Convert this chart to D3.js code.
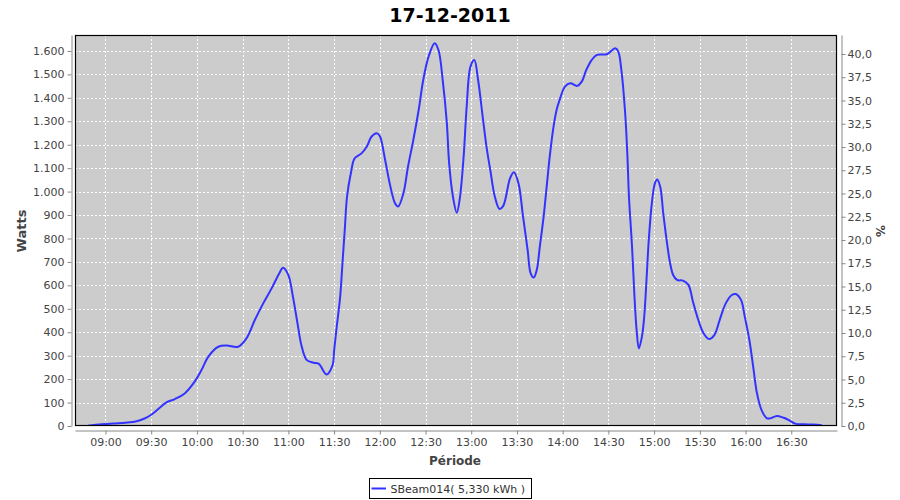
<!DOCTYPE html>
<html>
<head>
<meta charset="utf-8">
<script src="https://cdn.jsdelivr.net/npm/d3@7"></script>
<style>
  html, body { margin: 0; padding: 0; background: #ffffff; }
  svg { display: block; }
  text { font-family: "DejaVu Sans", sans-serif; }
</style>
</head>
<body>
<svg id="chart" width="900" height="500"></svg>
<script>
// ---------------- DATA ----------------
const chartTitle = "17-12-2011";
const seriesName = "SBeam014( 5,330 kWh )";
const leftAxisLabel = "Watts";
const rightAxisLabel = "%";
const xAxisLabel = "Période";

const times = [
  "08:48:30","08:57:30","09:05:00","09:13:00","09:20:30","09:26:00","09:30:30","09:36:00","09:40:00","09:45:30",
  "09:52:00","09:58:30","10:03:00","10:07:30","10:14:00","10:19:30","10:27:00","10:32:30","10:38:00","10:43:30",
  "10:49:00","10:54:00","10:56:30","11:00:00","11:03:00","11:06:00","11:08:30","11:12:00","11:16:30","11:20:00",
  "11:25:00","11:29:00","11:30:00","11:31:30","11:34:00","11:35:30","11:37:00","11:38:30","11:41:00","11:43:30",
  "11:48:00","11:51:30","11:54:30","11:58:00","12:00:00","12:03:30","12:06:30","12:10:00","12:12:00","12:15:30",
  "12:18:30","12:22:00","12:25:30","12:28:30","12:32:00","12:36:00","12:38:30","12:41:30","12:44:00","12:45:30",
  "12:48:00","12:50:30","12:52:30","12:55:00","12:57:00","12:59:30","13:02:00","13:04:30","13:07:30","13:10:00",
  "13:12:30","13:15:30","13:18:30","13:21:00","13:25:30","13:28:00","13:31:00","13:34:00","13:37:00","13:39:00",
  "13:41:00","13:43:00","13:45:00","13:47:30","13:49:30","13:51:30","13:54:00","13:56:00","13:58:00","14:01:30",
  "14:05:00","14:09:30","14:12:30","14:15:30","14:19:00","14:22:30","14:29:00","14:34:30","14:36:30","14:38:30",
  "14:41:00","14:42:30","14:43:30","14:45:30","14:47:00","14:48:30","14:50:00","14:52:00","14:53:30","14:55:00",
  "14:56:30","14:58:30","15:00:30","15:02:00","15:04:00","15:06:00","15:08:30","15:10:30","15:12:30","15:15:00",
  "15:19:00","15:22:30","15:25:30","15:29:00","15:32:30","15:36:00","15:39:30","15:43:00","15:47:00","15:51:00",
  "15:53:30","15:57:00","15:59:30","16:02:30","16:05:00","16:07:30","16:10:30","16:14:00","16:16:30","16:20:30",
  "16:25:00","16:29:00","16:32:30","16:38:00","16:44:30","16:50:00"
];
const watts = [
  1, 7, 11, 14, 20, 33, 50, 80, 101, 115,
  139, 189, 239, 296, 338, 343, 338, 374, 452, 523,
  587, 651, 675, 644, 552, 438, 346, 282, 270, 265,
  220, 260, 320, 410, 552, 694, 836, 978, 1078, 1142,
  1163, 1192, 1234, 1249, 1237, 1135, 1035, 950, 936, 993,
  1106, 1220, 1348, 1476, 1576, 1633, 1604, 1462, 1291, 1121,
  978, 910, 971, 1149, 1362, 1533, 1561, 1476, 1320, 1192,
  1092, 978, 926, 939, 1057, 1082, 1035, 893, 751, 651,
  633, 666, 765, 893, 1021, 1149, 1277, 1348, 1391, 1448,
  1462, 1451, 1469, 1519, 1561, 1583, 1586, 1611, 1597, 1519,
  1334, 1149, 978, 765, 566, 410, 331, 381, 466, 623,
  794, 950, 1035, 1052, 1021, 907, 779, 694, 644, 623,
  620, 602, 530, 452, 395, 371, 388, 452, 523, 559,
  563, 538, 466, 367, 253, 139, 68, 33, 33, 43,
  35, 23, 10, 7, 6, 3
];

const xDomainTimes = ["08:40:00", "17:00:00"];
const xTickTimes = ["09:00:00","09:30:00","10:00:00","10:30:00","11:00:00","11:30:00","12:00:00","12:30:00",
                    "13:00:00","13:30:00","14:00:00","14:30:00","15:00:00","15:30:00","16:00:00","16:30:00"];
const leftDomain = [0, 1668];
const leftTicks = [0,100,200,300,400,500,600,700,800,900,1000,1100,1200,1300,1400,1500,1600];
const rightDomain = [0, 42.04];
const rightTicks = [0,2.5,5,7.5,10,12.5,15,17.5,20,22.5,25,27.5,30,32.5,35,37.5,40];

// ---------------- LAYOUT ----------------
const plot = { left: 75, top: 35, right: 837, bottom: 426 };
const parse = d3.timeParse("%H:%M:%S");
const data = times.map((t, i) => ({ t: parse(t), v: watts[i] }));

const locale = d3.formatLocale({ decimal: ",", thousands: ".", grouping: [3], currency: ["", ""] });
const fmtLeft = locale.format(",d");
const fmtRight = locale.format(",.1f");

const x = d3.scaleTime().domain(xDomainTimes.map(parse)).range([plot.left, plot.right]);
const yL = d3.scaleLinear().domain(leftDomain).range([plot.bottom, plot.top]);
const yR = d3.scaleLinear().domain(rightDomain).range([plot.bottom, plot.top]);

const svg = d3.select("#chart");
const tickColor = "#444444";
const axisColor = "#888888";

// Title
svg.append("text")
  .attr("x", 450).attr("y", 22)
  .attr("text-anchor", "middle")
  .attr("font-size", 19).attr("font-weight", "bold")
  .attr("fill", "#000")
  .text(chartTitle);

// Plot background
svg.append("rect")
  .attr("x", plot.left).attr("y", plot.top)
  .attr("width", plot.right - plot.left).attr("height", plot.bottom - plot.top)
  .attr("fill", "#cccccc");

// Gridlines
const grid = svg.append("g").attr("stroke", "#ffffff").attr("stroke-width", 1).attr("stroke-dasharray", "2,2");
xTickTimes.map(parse).forEach(t => {
  const xx = Math.round(x(t)) + 0.5;
  grid.append("line").attr("x1", xx).attr("x2", xx).attr("y1", plot.top).attr("y2", plot.bottom);
});
leftTicks.forEach(v => {
  const yy = Math.round(yL(v)) + 0.5;
  grid.append("line").attr("x1", plot.left).attr("x2", plot.right).attr("y1", yy).attr("y2", yy);
});

// Clip
svg.append("clipPath").attr("id", "clip").append("rect")
  .attr("x", plot.left).attr("y", plot.top)
  .attr("width", plot.right - plot.left).attr("height", plot.bottom - plot.top);

// Line
const line = d3.line().x(d => x(d.t)).y(d => yL(d.v)).curve(d3.curveCatmullRom.alpha(0.5));
svg.append("path")
  .datum(data)
  .attr("clip-path", "url(#clip)")
  .attr("fill", "none")
  .attr("stroke", "#3333ff")
  .attr("stroke-width", 2)
  .attr("stroke-linejoin", "round")
  .attr("d", line);

// Plot outline
svg.append("rect")
  .attr("x", plot.left + 0.5).attr("y", plot.top + 0.5)
  .attr("width", plot.right - plot.left - 1).attr("height", plot.bottom - plot.top - 1)
  .attr("fill", "none").attr("stroke", "#000").attr("stroke-width", 1.2);

function styleAxis(g) {
  g.select(".domain").attr("stroke", axisColor);
  g.selectAll(".tick line").attr("stroke", axisColor);
  g.selectAll(".tick text").attr("fill", tickColor).attr("font-size", 11).attr("font-family", "DejaVu Sans, sans-serif");
}

// Left axis
const gL = svg.append("g").attr("transform", "translate(71.5,0)")
  .call(d3.axisLeft(yL).tickValues(leftTicks).tickFormat(fmtLeft).tickSize(4).tickSizeOuter(0).tickPadding(3));
styleAxis(gL);

// Right axis
const gR = svg.append("g").attr("transform", "translate(841.5,0)")
  .call(d3.axisRight(yR).tickValues(rightTicks).tickFormat(fmtRight).tickSize(4).tickSizeOuter(0).tickPadding(2));
styleAxis(gR);

// Bottom axis
const gB = svg.append("g").attr("transform", "translate(0,430.5)")
  .call(d3.axisBottom(x).tickValues(xTickTimes.map(parse)).tickFormat(d3.timeFormat("%H:%M")).tickSize(4).tickSizeOuter(0).tickPadding(4));
styleAxis(gB);

// Axis labels
svg.append("text")
  .attr("transform", "translate(25.5,231) rotate(-90)")
  .attr("text-anchor", "middle")
  .attr("font-size", 13).attr("font-weight", "bold").attr("fill", tickColor)
  .text(leftAxisLabel);

svg.append("text")
  .attr("transform", "translate(876,231) rotate(90)")
  .attr("text-anchor", "middle")
  .attr("font-size", 12).attr("font-weight", "bold").attr("fill", tickColor)
  .text(rightAxisLabel);

svg.append("text")
  .attr("x", 455).attr("y", 464.5)
  .attr("text-anchor", "middle")
  .attr("font-size", 12).attr("font-weight", "bold").attr("fill", tickColor)
  .text(xAxisLabel);

// Legend
const lg = svg.append("g");
lg.append("rect")
  .attr("x", 369.5).attr("y", 478.5).attr("width", 162).attr("height", 20)
  .attr("fill", "#fff").attr("stroke", "#000").attr("stroke-width", 1);
lg.append("line")
  .attr("x1", 371.5).attr("x2", 386).attr("y1", 488.5).attr("y2", 488.5)
  .attr("stroke", "#3333ff").attr("stroke-width", 2);
lg.append("text")
  .attr("x", 390.5).attr("y", 493)
  .attr("font-size", 11).attr("fill", "#333")
  .text(seriesName);
</script>
</body>
</html>
